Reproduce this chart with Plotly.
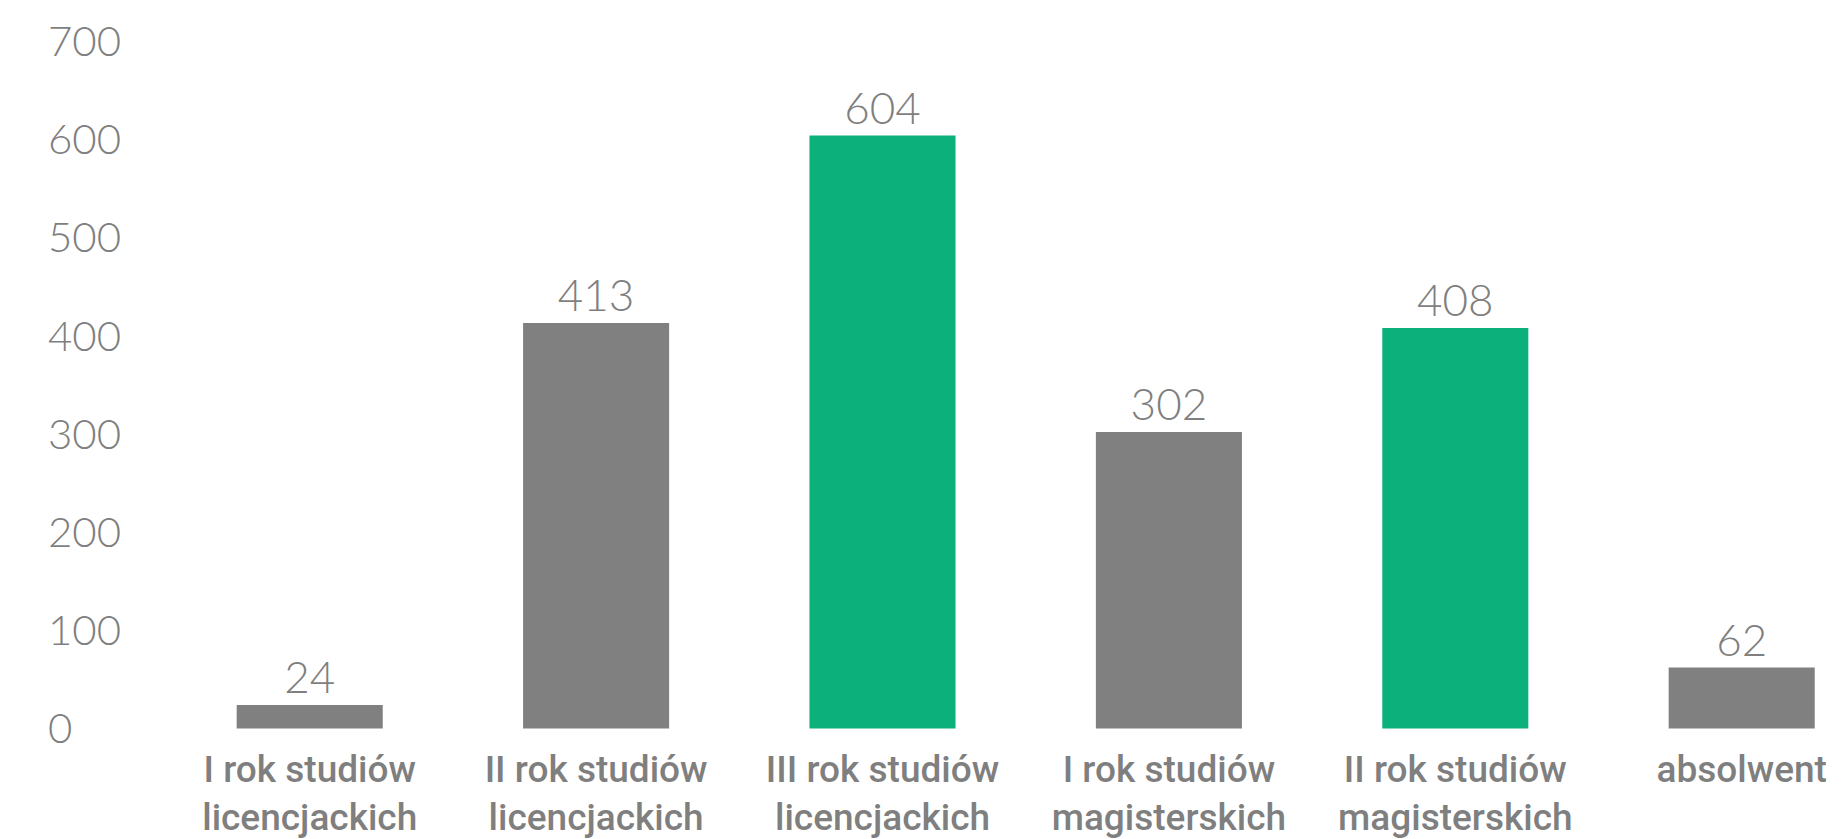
import plotly.graph_objects as go

# Students by year of study
categories = [
    "I rok studiów<br>licencjackich",
    "II rok studiów<br>licencjackich",
    "III rok studiów<br>licencjackich",
    "I rok studiów<br>magisterskich",
    "II rok studiów<br>magisterskich",
    "absolwent",
]
values = [24, 413, 604, 302, 408, 62]
highlighted = [False, False, True, False, True, False]
y_ticks = [0, 100, 200, 300, 400, 500, 600, 700]

GREY = "#808080"
GREEN = "#0bb07b"
TEXT_GREY = "#7f7f7f"

bar_colors = [GREEN if h else GREY for h in highlighted]

fig = go.Figure(
    go.Bar(
        x=list(range(len(categories))),
        y=values,
        marker=dict(color=bar_colors, line=dict(width=0)),
        text=[str(v) for v in values],
        textposition="outside",
        textfont=dict(family="Lato", size=44, color=TEXT_GREY, weight=300),
        cliponaxis=False,
        hoverinfo="skip",
    )
)

fig.update_layout(
    width=1843,
    height=839,
    # value axis padded past 0 and 700 so the inside tick labels stay visible
    margin=dict(l=0, r=0, t=7.3, b=84.5, autoexpand=False),
    paper_bgcolor="white",
    plot_bgcolor="white",
    bargap=0.49,
    showlegend=False,
    xaxis=dict(
        tickmode="array",
        tickvals=list(range(len(categories))),
        ticktext=categories,
        range=[-1.0814, 5.3537],
        automargin=False,
        showgrid=False,
        zeroline=False,
        showline=False,
        ticks="",
        ticklabelstandoff=-10,
        tickfont=dict(family="Roboto", size=37, color=TEXT_GREY, weight=500),
    ),
    yaxis=dict(
        range=[-26, 735],
        automargin=False,
        tickmode="array",
        tickvals=y_ticks,
        ticktext=[str(t) for t in y_ticks],
        showgrid=False,
        zeroline=False,
        showline=False,
        ticks="",
        ticklabelposition="inside",
        ticklabelstandoff=45,
        tickfont=dict(family="Lato", size=42, color=TEXT_GREY, weight=300),
    ),
)

fig.write_html("out.html")
